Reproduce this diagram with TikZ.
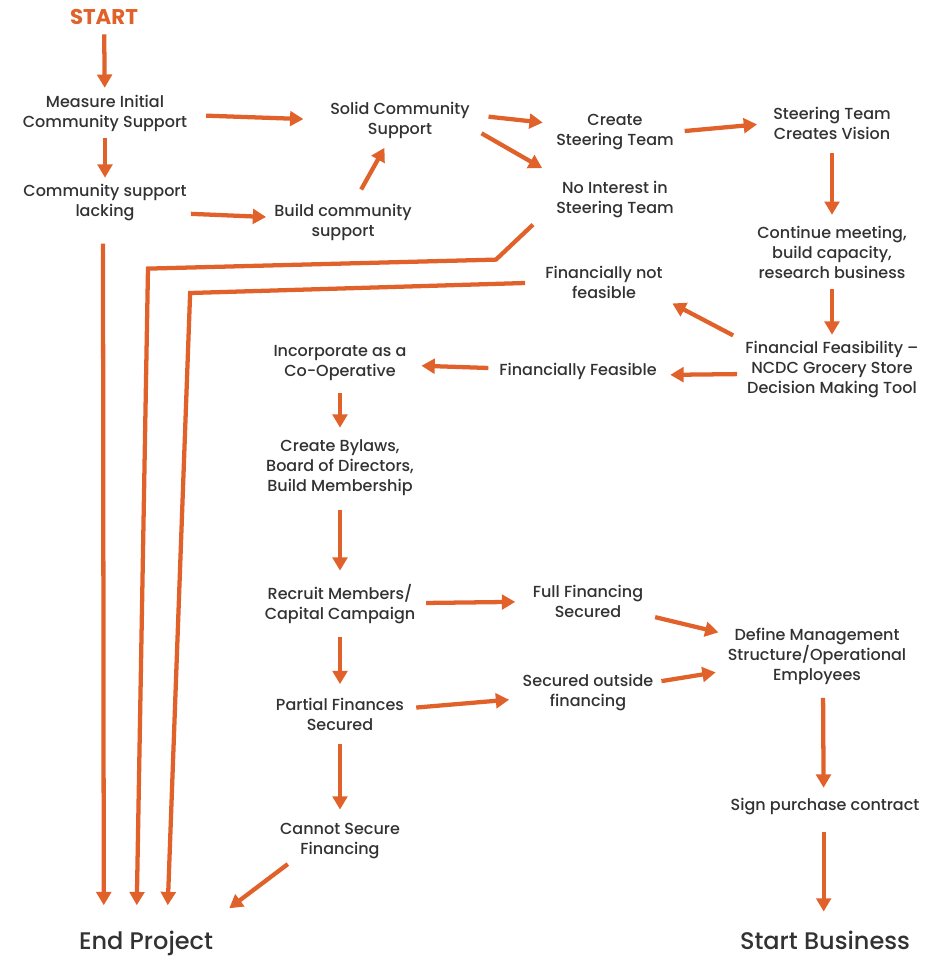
\documentclass[tikz,border=0pt]{standalone}
\usepackage{fontspec}
\setmainfont{Poppins}
\newfontfamily\medfont{Poppins}[UprightFont={* Medium}]
\usetikzlibrary{arrows.meta}

\definecolor{flow}{RGB}{224,98,42}
\definecolor{ink}{RGB}{50,50,50}

\tikzset{
  box/.style={align=center, text=ink, inner sep=0pt, font=\medfont\fontsize{12}{15}\selectfont},
  endbox/.style={text=ink, inner sep=0pt, anchor=base, font=\medfont\fontsize{18}{20}\selectfont},
  arr/.style={draw=flow, line width=3.2pt, -{Triangle[width=11pt,length=10pt]},
    shorten <=10pt, shorten >=10pt},
}

\begin{document}
\begin{tikzpicture}[x=0.75pt, y=-0.75pt]
    \useasboundingbox (0,0) rectangle (927,957);

    \node[text=flow, inner sep=0pt, font=\fontsize{16}{18}\selectfont\bfseries] (Start) at (104,17) {START};
    \node[box] (Measure) at (105,113) {Measure Initial\\Community Support};
    \node[box] (Lacking) at (105,203) {Community support\\lacking};
    \node[box] (Solid) at (400,120) {Solid Community\\Support};
    \node[box] (Build) at (343,222) {Build community\\support};
    \node[box] (CreateTeam) at (615,132) {Create\\Steering Team};
    \node[box] (NoInterest) at (615,200) {No Interest in\\Steering Team};
    \node[box] (Vision) at (832,123) {Steering Team\\Creates Vision};
    \node[box] (Continue) at (832,252) {Continue meeting,\\build capacity,\\research business};
    \node[box] (NotFeasible) at (604,282) {Financially not\\feasible};
    \node[box] (Feasibility) at (832,370) {Financial Feasibility –\\NCDC Grocery Store\\Decision Making Tool};
    \node[box] (Feasible) at (578,371) {Financially Feasible};
    \node[box] (Incorporate) at (340,363) {Incorporate as a\\Co-Operative};
    \node[box] (Bylaws) at (340,468) {Create Bylaws,\\Board of Directors,\\Build Membership};
    \node[box] (Recruit) at (340,604) {Recruit Members/\\Capital Campaign};
    \node[box] (FullFin) at (588,601) {Full Financing\\Secured};
    \node[box] (Partial) at (340,714) {Partial Finances\\Secured};
    \node[box] (Outside) at (588,693) {Secured outside\\financing};
    \node[box] (Define) at (817,656) {Define Management\\Structure/Operational\\Employees};
    \node[box] (Sign) at (825,807) {Sign purchase contract};
    \node[box] (Cannot) at (340,841) {Cannot Secure\\Financing};
    \node[endbox] (EndProject) at (146,949) {End Project};
    \node[endbox] (StartBusiness) at (825,949) {Start Business};

    % main path
    \path (Start) edge[arr, shorten <=7pt, shorten >=5pt] (Measure);
    \path (Measure) edge[arr, shorten <=5pt, shorten >=5pt] (Lacking);
    \path ([yshift=-1.5pt]Measure.east) edge[arr, shorten <=14pt, shorten >=20pt] (Solid.west);
    \path ([yshift=-8pt]Lacking.east) edge[arr, shorten <=3pt, shorten >=6pt] ([yshift=3.5pt]Build.west);
    \path (Build) edge[arr, shorten <=12pt, shorten >=8pt] (Solid);
    \path ([yshift=4pt]Solid.east) edge[arr, shorten <=14pt, shorten >=10pt] ([yshift=6pt]CreateTeam.west);
    \path ([yshift=-5pt]Solid.east) edge[arr, shorten <=10pt, shorten >=12pt] ([yshift=4pt]NoInterest.north west);
    \path (CreateTeam.east) edge[arr, shorten <=8pt, shorten >=12pt] (Vision.west);
    \path (Vision) edge[arr, shorten <=10pt, shorten >=8pt] (Continue);
    \path (Continue) edge[arr, shorten <=8pt, shorten >=5pt] (Feasibility);
    \path ([shift={(-12,-6)}]Feasibility.north west) edge[arr, shorten <=0pt, shorten >=8pt] (NotFeasible.south east);
    \path ([yshift=-3pt]Feasibility.west) edge[arr, shorten <=6pt, shorten >=10pt] ([yshift=-3pt]Feasible.east);
    \path (Feasible) edge[arr, shorten <=8pt, shorten >=11pt] (Incorporate);
    \path (Incorporate) edge[arr, shorten <=9pt, shorten >=9pt] (Bylaws);
    \path (Bylaws) edge[arr, shorten <=10pt, shorten >=10pt] (Recruit);
    \path (Recruit) edge[arr, shorten <=8pt, shorten >=13pt] (FullFin);
    \path (FullFin) edge[arr, shorten <=9pt, shorten >=7pt] (Define);
    \path (Recruit) edge[arr, shorten <=10pt, shorten >=10pt] (Partial);
    \path (Partial) edge[arr, shorten <=9pt, shorten >=10pt] (Outside);
    \path (Outside) edge[arr, shorten <=6pt, shorten >=9pt] (Define);
    \path (Partial) edge[arr, shorten <=10pt, shorten >=10pt] (Cannot);
    \path ([xshift=4.5pt]Define.south) edge[arr, shorten <=10pt, shorten >=8pt] ([xshift=-1pt]Sign.north);
    \path ([xshift=-1pt]Sign.south) edge[arr, shorten <=12pt, shorten >=14pt] ([xshift=-1pt]StartBusiness.north);

    % dead ends
    \path ([shift={(8,5)}]Cannot.south west) edge[arr, shorten <=0pt, shorten >=0pt] ([shift={(16,-22)}]EndProject.north east);
    \draw[arr, shorten <=0pt, shorten >=0pt] ([shift={(-2,22)}]Lacking.south) -- ([shift={(25,-25)}]EndProject.north west);
    \draw[arr, shorten <=0pt, shorten >=0pt, line join=miter] ([shift={(-23,6)}]NoInterest.south west) -- ++(-37,35) -- ++(-348,9) -- ([shift={(58,-25)}]EndProject.north west);
    \draw[arr, shorten <=0pt, shorten >=0pt, line join=miter] ([shift={(-20,1)}]NotFeasible.west) -- ++(-335,10) -- ([shift={(89,-25)}]EndProject.north west);
\end{tikzpicture}
\end{document}
